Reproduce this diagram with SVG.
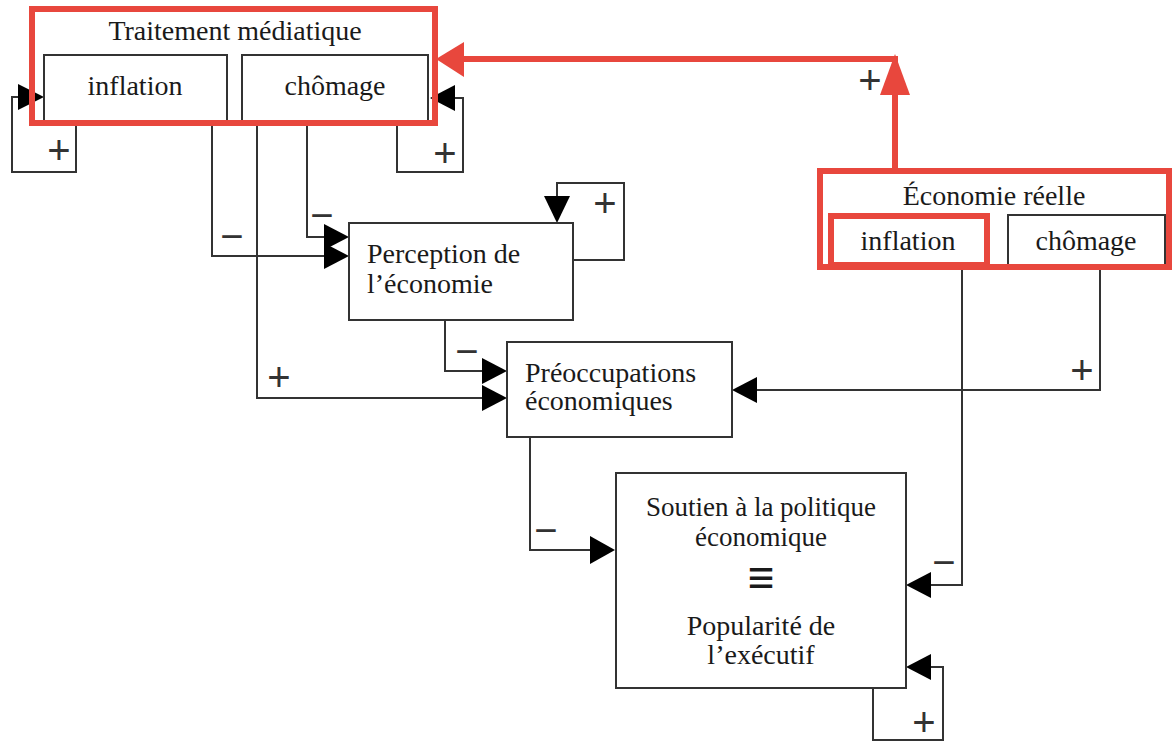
<svg xmlns="http://www.w3.org/2000/svg" width="1176" height="742" viewBox="0 0 1176 742">
<style>
.box{fill:#fff;stroke:#333;stroke-width:2}
.red{fill:none;stroke:#e8473d;stroke-width:6}
.t{font-family:"Liberation Serif","Times New Roman",serif;font-size:28px;fill:#1a1a1a}
.c{text-anchor:middle}
.ln{fill:none;stroke:#333;stroke-width:2}
.ah{fill:#000}
.rl{fill:none;stroke:#e8473d;stroke-width:6}
.ra{fill:#e8473d}
.s{font-family:"Liberation Sans",Arial,sans-serif;font-size:40px;fill:#333;text-anchor:middle}
</style>
<rect width="1176" height="742" fill="#fff"/>
<g id="connectors">
<polyline class="ln" points="76,125 76,172 12,172 12,97 20,97"/>
<polygon class="ah" points="44,97 18,84 18,110"/>
<text class="s" x="59" y="164">+</text>
<polyline class="ln" points="397,125 397,172 463,172 463,98 452,98"/>
<polygon class="ah" points="430,98 455,85 455,111"/>
<text class="s" x="445" y="167">+</text>
<polyline class="ln" points="212,125 212,256 326,256"/>
<polygon class="ah" points="349,256 324,243 324,269"/>
<text class="s" x="232" y="250">−</text>
<polyline class="ln" points="307,125 307,237 326,237"/>
<polygon class="ah" points="349,237 324,224 324,250"/>
<text class="s" x="322" y="229">−</text>
<polyline class="ln" points="257,125 257,398 484,398"/>
<polygon class="ah" points="507,398 482,385 482,411"/>
<text class="s" x="279" y="391">+</text>
<polyline class="ln" points="573,260 624,260 624,183 557,183 557,196"/>
<polygon class="ah" points="557,223 544,196 570,196"/>
<text class="s" x="605" y="217">+</text>
<polyline class="ln" points="445,320 445,371 484,371"/>
<polygon class="ah" points="507,371 482,358 482,384"/>
<text class="s" x="467" y="365">−</text>
<polyline class="ln" points="530,437 530,550 592,550"/>
<polygon class="ah" points="615,550 590,536 590,564"/>
<text class="s" x="546" y="544">−</text>
<polyline class="ln" points="1100,270 1100,390 755,390"/>
<polygon class="ah" points="732,390 757,377 757,403"/>
<text class="s" x="1082" y="384">+</text>
<polyline class="ln" points="962,270 962,585 929,585"/>
<polygon class="ah" points="906,585 931,572 931,598"/>
<text class="s" x="944" y="576">−</text>
<polyline class="ln" points="873,688 873,740 943,740 943,667 929,667"/>
<polygon class="ah" points="906,667 931,654 931,680"/>
<text class="s" x="924" y="736">+</text>
<polyline class="rl" points="895,168 895,59 460,59"/>
<polygon class="ra" points="895,54 880,95 910,95"/>
<polygon class="ra" points="436,59 464,42 464,77"/>
<text class="s" x="870" y="94">+</text>
</g>
<g id="traitement-mediatique">
<rect class="box" x="44" y="55" width="183" height="70"/>
<rect class="box" x="242" y="55" width="186" height="70"/>
<text class="t c" x="235" y="40">Traitement médiatique</text>
<text class="t c" x="135" y="95">inflation</text>
<text class="t c" x="335" y="95">chômage</text>
<rect class="red" x="32" y="9" width="403" height="114"/>
</g>
<g id="economie-reelle">
<rect class="box" x="1008" y="215" width="157" height="52"/>
<text class="t c" x="994" y="205">Économie réelle</text>
<text class="t c" x="908" y="250">inflation</text>
<text class="t c" x="1086" y="250">chômage</text>
<rect class="red" x="831" y="216" width="156" height="49"/>
<rect class="red" x="820" y="171" width="349" height="96"/>
</g>
<g id="perception">
<rect class="box" x="349" y="223" width="224" height="97"/>
<text class="t" x="367" y="263">Perception de</text>
<text class="t" x="367" y="293">l’économie</text>
</g>
<g id="preoccupations">
<rect class="box" x="507" y="342" width="225" height="95"/>
<text class="t" x="525" y="382">Préoccupations</text>
<text class="t" x="525" y="410">économiques</text>
</g>
<g id="soutien">
<rect class="box" x="616" y="473" width="290" height="215"/>
<text class="t c" x="761" y="516" style="font-size:27px">Soutien à la politique</text>
<text class="t c" x="761" y="546" style="font-size:27px">économique</text>
<text class="t c" x="761" y="594" style="font-size:48px;font-weight:bold">≡</text>
<text class="t c" x="761" y="635">Popularité de</text>
<text class="t c" x="761" y="664">l’exécutif</text>
</g>
</svg>
